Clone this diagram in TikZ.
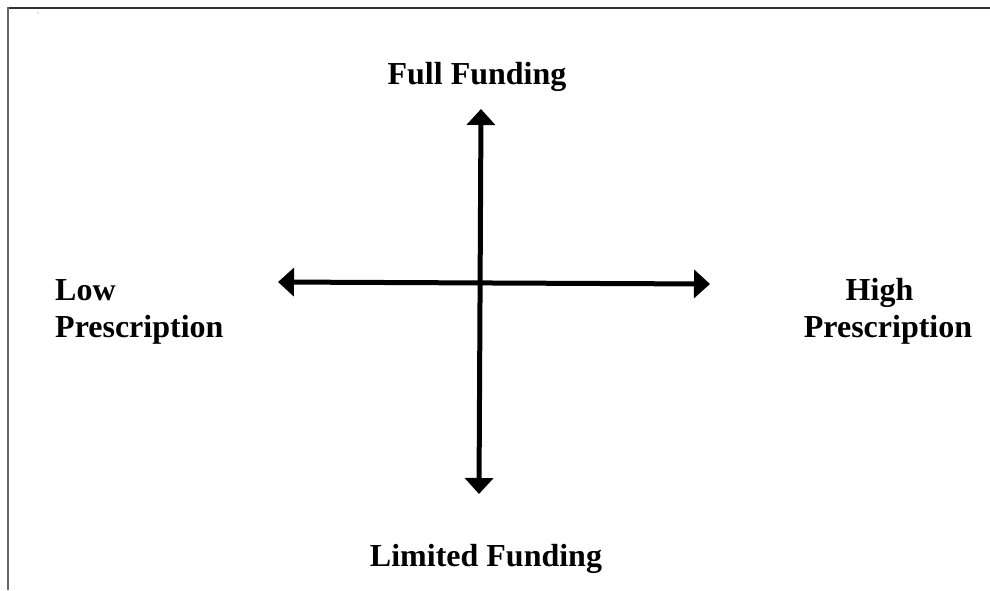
\documentclass[tikz,border=0pt]{standalone}
\usepackage{fontspec}
\setmainfont{Liberation Serif}
\usetikzlibrary{arrows.meta}
\tikzset{
  lbl/.style={font=\fontsize{32}{37}\selectfont\bfseries, inner sep=0pt},
  axis/.style={line width=5pt, {Triangle[length=16pt,width=28pt]}-{Triangle[length=16pt,width=28pt]}},
  frame/.style={line width=2pt}
}
\begin{document}
\begin{tikzpicture}[x=1pt,y=-1pt]
\useasboundingbox (0,0) rectangle (990,590);
% frame
\draw[frame, black!80] (7,7.5) -- (990,7.5);
\draw[frame, black!60] (7.5,7) -- (7.5,590);
\fill[black!50] (38,13) circle (0.6);
% axes
\coordinate (top) at (481,109);
\coordinate (bot) at (479,494);
\coordinate (lft) at (278,282);
\coordinate (rgt) at (710,284);
\draw[axis] (top) -- (bot);
\draw[axis] (lft) -- (rgt);
% labels
\node[lbl, anchor=base] (full) at (477,84) {Full Funding};
\node[lbl, anchor=base] (limited) at (486,566) {Limited Funding};
\node[lbl, anchor=base west] (low) at (55,300) {Low};
\node[lbl, anchor=base west] (lowp) at (55,337) {Prescription};
\node[lbl, anchor=base] (high) at (879.5,300) {High};
\node[lbl, anchor=base] (highp) at (888,337) {Prescription};
\end{tikzpicture}
\end{document}
